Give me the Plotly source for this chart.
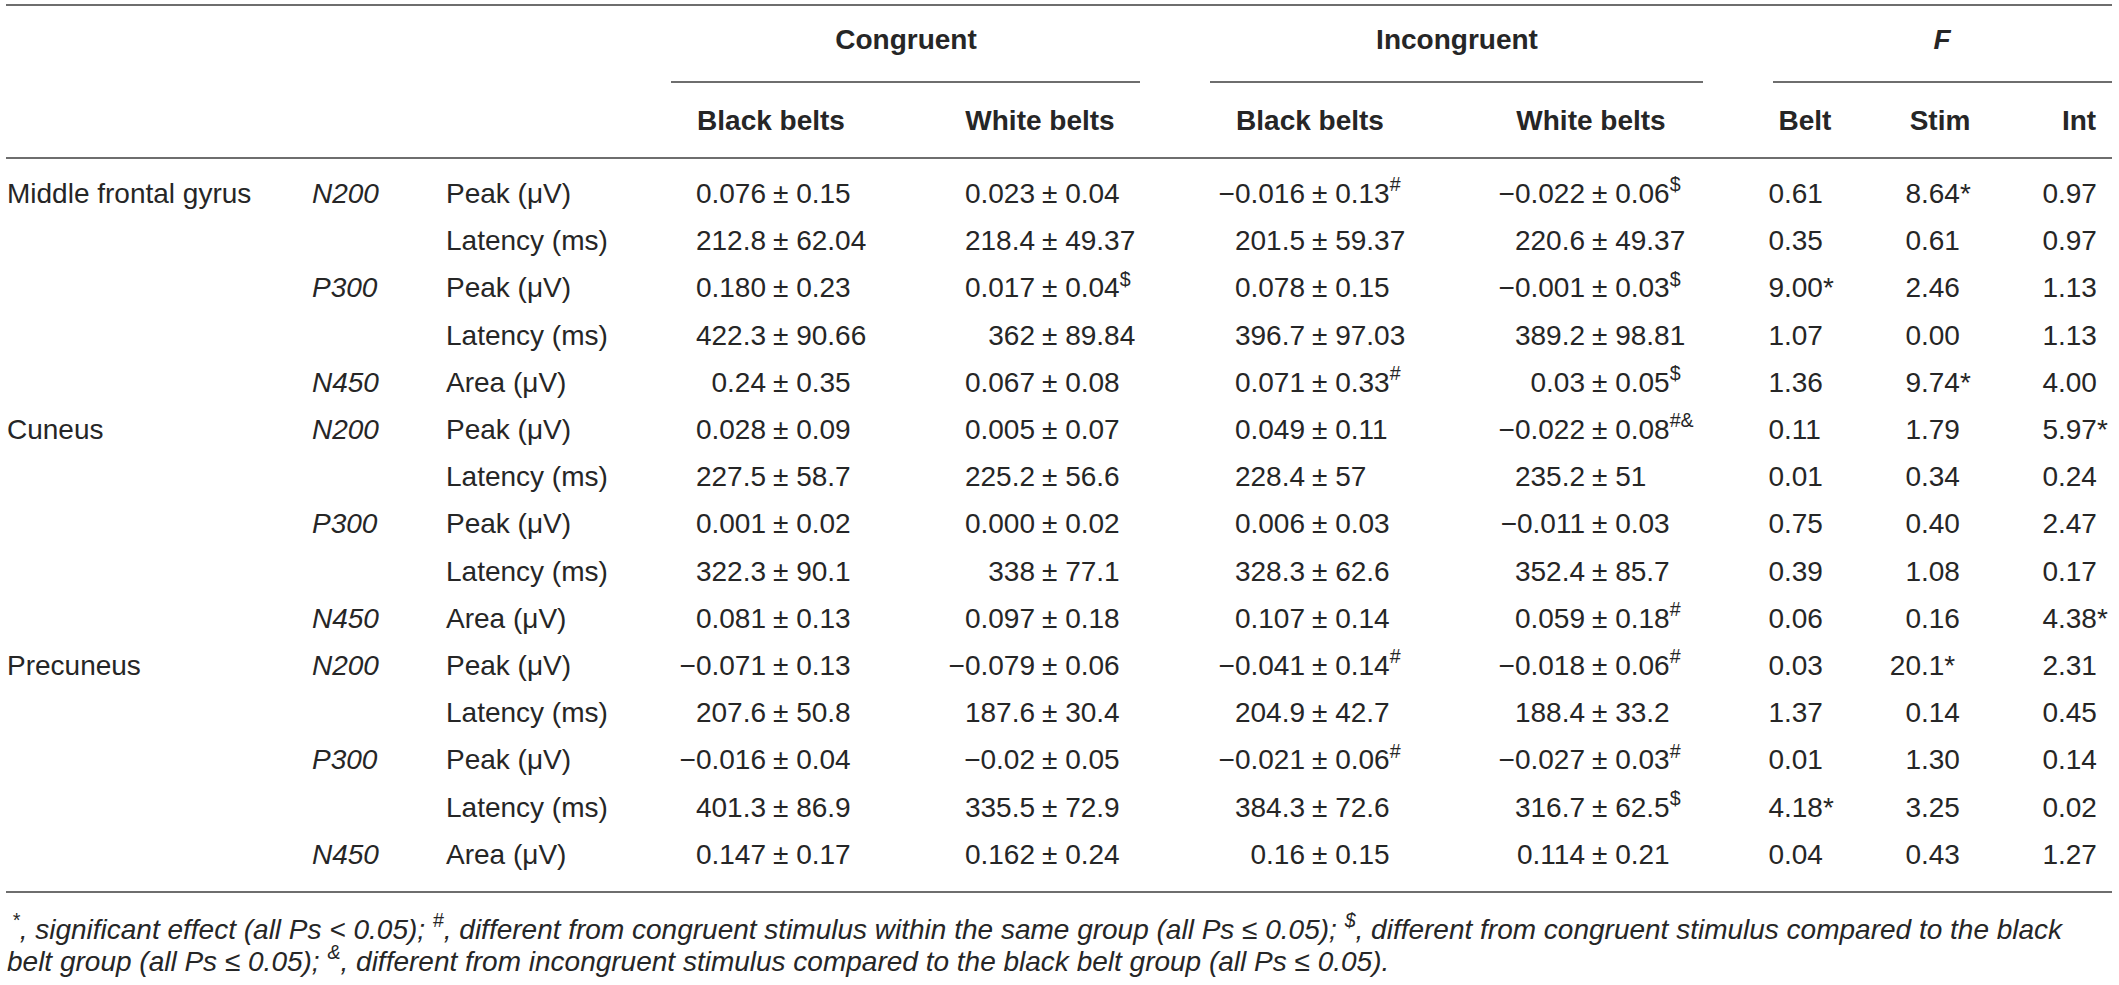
import plotly.graph_objects as go

# table content
regions = ["Middle frontal gyrus", "", "", "", "", "Cuneus", "", "", "", "",
           "Precuneus", "", "", "", ""]
components = ["N200", "", "P300", "", "N450",
              "N200", "", "P300", "", "N450",
              "N200", "", "P300", "", "N450"]
measures = ["Peak (μV)", "Latency (ms)", "Peak (μV)", "Latency (ms)", "Area (μV)",
            "Peak (μV)", "Latency (ms)", "Peak (μV)", "Latency (ms)", "Area (μV)",
            "Peak (μV)", "Latency (ms)", "Peak (μV)", "Latency (ms)", "Area (μV)"]

cong_black_mean = ["0.076", "212.8", "0.180", "422.3", "0.24", "0.028", "227.5", "0.001",
                   "322.3", "0.081", "−0.071", "207.6", "−0.016", "401.3", "0.147"]
cong_black_sd = ["0.15", "62.04", "0.23", "90.66", "0.35", "0.09", "58.7", "0.02",
                 "90.1", "0.13", "0.13", "50.8", "0.04", "86.9", "0.17"]
cong_black_sup = [""] * 15

cong_white_mean = ["0.023", "218.4", "0.017", "362", "0.067", "0.005", "225.2", "0.000",
                   "338", "0.097", "−0.079", "187.6", "−0.02", "335.5", "0.162"]
cong_white_sd = ["0.04", "49.37", "0.04", "89.84", "0.08", "0.07", "56.6", "0.02",
                 "77.1", "0.18", "0.06", "30.4", "0.05", "72.9", "0.24"]
cong_white_sup = ["", "", "$", "", "", "", "", "", "", "", "", "", "", "", ""]

incong_black_mean = ["−0.016", "201.5", "0.078", "396.7", "0.071", "0.049", "228.4", "0.006",
                     "328.3", "0.107", "−0.041", "204.9", "−0.021", "384.3", "0.16"]
incong_black_sd = ["0.13", "59.37", "0.15", "97.03", "0.33", "0.11", "57", "0.03",
                   "62.6", "0.14", "0.14", "42.7", "0.06", "72.6", "0.15"]
incong_black_sup = ["#", "", "", "", "#", "", "", "", "", "", "#", "", "#", "", ""]

incong_white_mean = ["−0.022", "220.6", "−0.001", "389.2", "0.03", "−0.022", "235.2", "−0.011",
                     "352.4", "0.059", "−0.018", "188.4", "−0.027", "316.7", "0.114"]
incong_white_sd = ["0.06", "49.37", "0.03", "98.81", "0.05", "0.08", "51", "0.03",
                   "85.7", "0.18", "0.06", "33.2", "0.03", "62.5", "0.21"]
incong_white_sup = ["$", "", "$", "", "$", "#&amp;", "", "", "", "#", "#", "", "#", "$", ""]

f_belt = ["0.61", "0.35", "9.00*", "1.07", "1.36", "0.11", "0.01", "0.75",
          "0.39", "0.06", "0.03", "1.37", "0.01", "4.18*", "0.04"]
f_stim = ["8.64*", "0.61", "2.46", "0.00", "9.74*", "1.79", "0.34", "0.40",
          "1.08", "0.16", "20.1*", "0.14", "1.30", "3.25", "0.43"]
f_int = ["0.97", "0.97", "1.13", "1.13", "4.00", "5.97*", "0.24", "2.47",
         "0.17", "4.38*", "2.31", "0.45", "0.14", "0.02", "1.27"]

group_labels = ["<b>Congruent</b>", "<b>Incongruent</b>", "<b><i>F</i></b>"]
sub_labels = ["<b>Black belts</b>", "<b>White belts</b>", "<b>Black belts</b>",
              "<b>White belts</b>", "<b>Belt</b>", "<b>Stim</b>", "<b>Int</b>"]

footnote1 = ("<i><sup>*</sup>, significant effect (all Ps &lt; 0.05); <sup>#</sup>, different from "
             "congruent stimulus within the same group (all Ps ≤ 0.05); <sup>$</sup>, different "
             "from congruent stimulus compared to the black</i>")
footnote2 = ("<i>belt group (all Ps ≤ 0.05); <sup>&amp;</sup>, different from incongruent "
             "stimulus compared to the black belt group (all Ps ≤ 0.05).</i>")

W, H = 2119, 985
FONT = "Liberation Sans"
TXT = "#262626"
RULE = "#6e6e6e"
SIZE = 28

row_y = [196 + 47.2 * i for i in range(len(regions))]


def text_trace(x, ys, texts, pos, size=SIZE):
    if not isinstance(x, list):
        x = [x] * len(ys)
    # leave out blank cells
    keep = [i for i, t in enumerate(texts) if t]
    return go.Scatter(x=[x[i] for i in keep], y=[ys[i] for i in keep],
                      text=[texts[i] for i in keep], mode="text", textposition=pos,
                      textfont=dict(family=FONT, size=size, color=TXT),
                      cliponaxis=False, hoverinfo="skip", showlegend=False)


fig = go.Figure()

# row labels
fig.add_trace(text_trace(7, row_y, regions, "middle right"))
fig.add_trace(text_trace(312, row_y, ["<i>%s</i>" % c if c else "" for c in components], "middle right"))
fig.add_trace(text_trace(446, row_y, measures, "middle right"))

# mean ± sd columns, lined up on the ± sign
pm_cols = [(773, cong_black_mean, cong_black_sd, cong_black_sup),
           (1042, cong_white_mean, cong_white_sd, cong_white_sup),
           (1312, incong_black_mean, incong_black_sd, incong_black_sup),
           (1592, incong_white_mean, incong_white_sd, incong_white_sup)]
for pm_x, means, sds, sups in pm_cols:
    fig.add_trace(text_trace(pm_x - 7, row_y, means, "middle left"))
    right = ["± " + s + ("<sup>%s</sup>" % m if m else "") for s, m in zip(sds, sups)]
    fig.add_trace(text_trace(pm_x, row_y, right, "middle right"))

# F values, lined up on the decimal point
for dec_x, vals in [(1784, f_belt), (1921, f_stim), (2058, f_int)]:
    ints = [v.split(".")[0] for v in vals]
    fracs = ["." + v.split(".")[1] for v in vals]
    fig.add_trace(text_trace(dec_x, row_y, ints, "middle left"))
    fig.add_trace(text_trace(dec_x, row_y, fracs, "middle right"))

# headers
fig.add_trace(text_trace([906, 1457, 1942], [42, 42, 42], group_labels, "middle center"))
fig.add_trace(text_trace([771, 1040, 1310, 1591, 1805, 1940, 2079], [123] * 7,
                         sub_labels, "middle center"))

# footnotes
fig.add_trace(text_trace([12, 7], [932, 964], [footnote1, footnote2], "middle right"))

# rules
rules = [(6, 2112, 5), (671, 1140, 82), (1210, 1703, 82), (1773, 2112, 82),
         (6, 2112, 158), (6, 2112, 892)]
for x0, x1, y in rules:
    fig.add_shape(type="line", x0=x0, x1=x1, y0=y, y1=y, xref="x", yref="y",
                  line=dict(color=RULE, width=2))

fig.update_layout(
    width=W, height=H,
    margin=dict(l=0, r=0, t=0, b=0),
    paper_bgcolor="white", plot_bgcolor="white",
    xaxis=dict(range=[0, W], visible=False, fixedrange=True),
    yaxis=dict(range=[H, 0], visible=False, fixedrange=True),
)

# drop the page's default body margin so the table sits at the window's corner
fig.write_html("out.html", config={"displayModeBar": False},
               post_script="document.body.style.margin = '0px';")
